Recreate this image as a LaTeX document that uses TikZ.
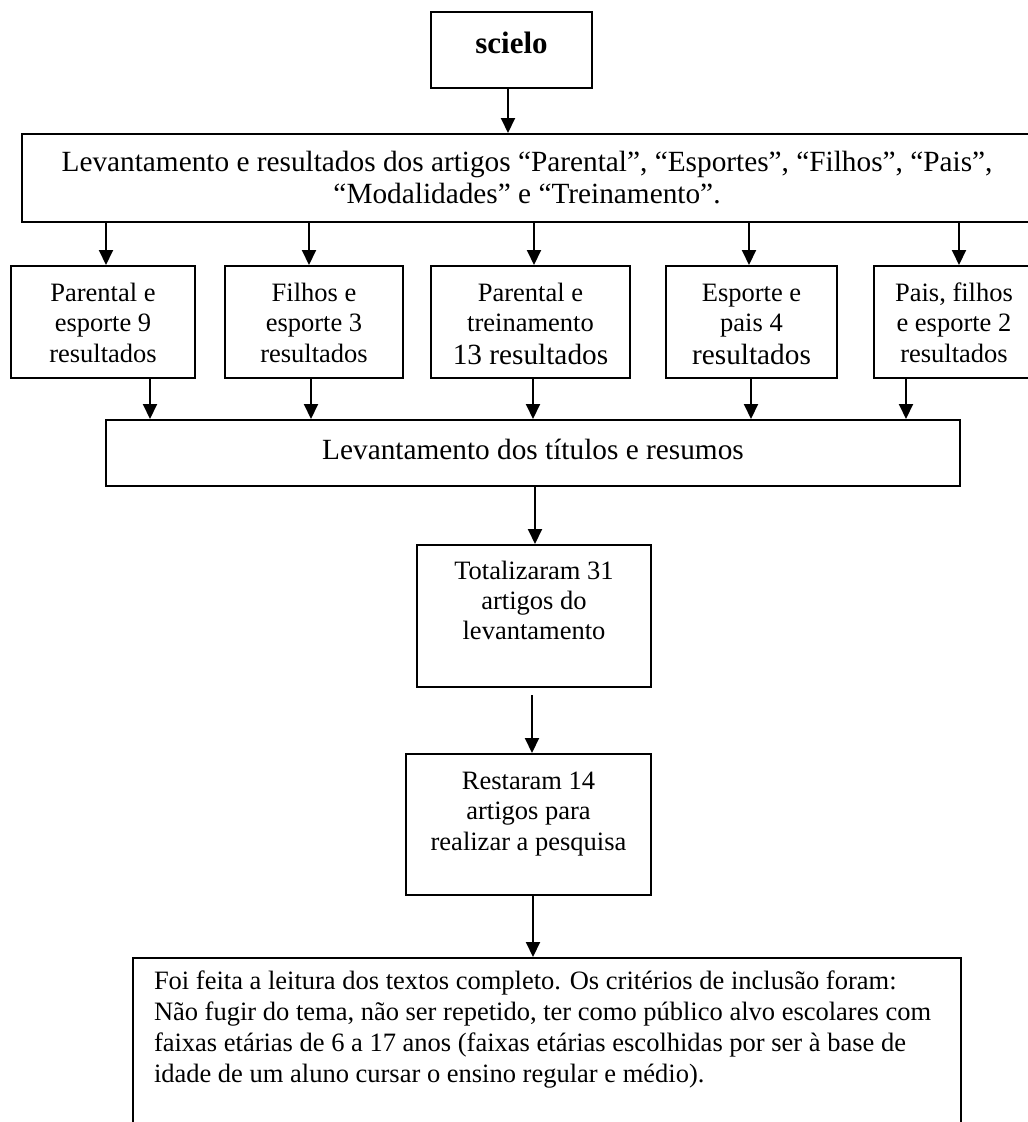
\documentclass[tikz,border=0pt]{standalone}
\usepackage{fontspec}
\setmainfont{Liberation Serif}
\usetikzlibrary{arrows.meta}
\newcommand{\fsnorm}{\fontsize{26.5}{30.5}\selectfont}
\newcommand{\fslarge}{\fontsize{29.3}{32}\selectfont}
\newcommand{\boxtxt}[5]{\parbox[b][#2][t]{#1}{#4\centering\rule{0pt}{#3}#5\par}}
\begin{document}
\begin{tikzpicture}[x=1pt,y=-1pt,
  box/.style={draw, line width=2pt, inner sep=0pt, anchor=north west},
  arr/.style={line width=2pt, -{Triangle[width=14pt,length=15pt]}}]
\useasboundingbox (0,0) rectangle (1028,1122);
\clip (0,0) rectangle (1028,1122);

\node[box] (sci) at (430,11) {\boxtxt{161pt}{76pt}{41pt}{\fontsize{31}{34}\selectfont\bfseries}{scielo}};
\node[box] (big) at (21,133) {\boxtxt{1010pt}{88pt}{37pt}{\fslarge}{Levantamento e resultados dos artigos “Parental”, “Esportes”, “Filhos”, “Pais”,\\“Modalidades” e “Treinamento”.}};
\node[box] (b1) at (10,265) {\boxtxt{184pt}{112pt}{35pt}{\fsnorm}{Parental e\\esporte 9\\resultados}};
\node[box] (b2) at (224,265) {\boxtxt{178pt}{112pt}{35pt}{\fsnorm}{Filhos e\\esporte 3\\resultados}};
\node[box] (b3) at (430,265) {\boxtxt{199pt}{112pt}{35pt}{\fsnorm}{Parental e\\treinamento\\[2.5pt]{\fslarge 13 resultados}}};
\node[box] (b4) at (665,265) {\boxtxt{171pt}{112pt}{35pt}{\fsnorm}{Esporte e\\pais 4\\[2.5pt]{\fslarge resultados}}};
\node[box] (b5) at (873,265) {\boxtxt{160pt}{112pt}{35pt}{\fsnorm}{Pais, filhos\\e esporte 2\\resultados}};
\node[box] (lev) at (105,419) {\boxtxt{854pt}{66pt}{39pt}{\fslarge}{Levantamento dos títulos e resumos}};
\node[box] (tot) at (416,544) {\boxtxt{234pt}{142pt}{34pt}{\fontsize{26.5}{30}\selectfont}{Totalizaram 31\\artigos do\\levantamento}};
\node[box] (rest) at (405,753) {\boxtxt{245pt}{141pt}{35pt}{\fsnorm}{Restaram 14\\artigos para\\realizar a pesquisa}};
\node[box] (bot) at (132,957) {\parbox[b][200pt][t]{828pt}{\fontsize{26.5}{31}\selectfont\raggedright\leftskip=21pt\rule{0pt}{31pt}Foi feita a leitura dos textos completo. Os critérios de inclusão foram:\\Não fugir do tema, não ser repetido, ter como público alvo escolares com\\faixas etárias de 6 a 17 anos (faixas etárias escolhidas por ser à base de\\idade de um aluno cursar o ensino regular e médio).\par}};

\coordinate (a0) at (508,0);
\coordinate (a1) at (106,0);
\coordinate (a2) at (309,0);
\coordinate (a3) at (534,0);
\coordinate (a4) at (749,0);
\coordinate (a5) at (959,0);
\coordinate (c1) at (150,0);
\coordinate (c2) at (311,0);
\coordinate (c3) at (533,0);
\coordinate (c4) at (751,0);
\coordinate (c5) at (906,0);
\coordinate (d1) at (535,0);
\coordinate (d2) at (532,0);
\coordinate (d3) at (533,0);

\draw[arr] (sci.south -| a0) -- (big.north -| a0);
\draw[arr] (big.south -| a1) -- (b1.north -| a1);
\draw[arr] (big.south -| a2) -- (b2.north -| a2);
\draw[arr] (big.south -| a3) -- (b3.north -| a3);
\draw[arr] (big.south -| a4) -- (b4.north -| a4);
\draw[arr] (big.south -| a5) -- (b5.north -| a5);
\draw[arr] (b1.south -| c1) -- (lev.north -| c1);
\draw[arr] (b2.south -| c2) -- (lev.north -| c2);
\draw[arr] (b3.south -| c3) -- (lev.north -| c3);
\draw[arr] (b4.south -| c4) -- (lev.north -| c4);
\draw[arr] (b5.south -| c5) -- (lev.north -| c5);
\draw[arr] (lev.south -| d1) -- (tot.north -| d1);
\draw[arr, shorten <=7pt] (tot.south -| d2) -- (rest.north -| d2);
\draw[arr] (rest.south -| d3) -- (bot.north -| d3);
\end{tikzpicture}
\end{document}
